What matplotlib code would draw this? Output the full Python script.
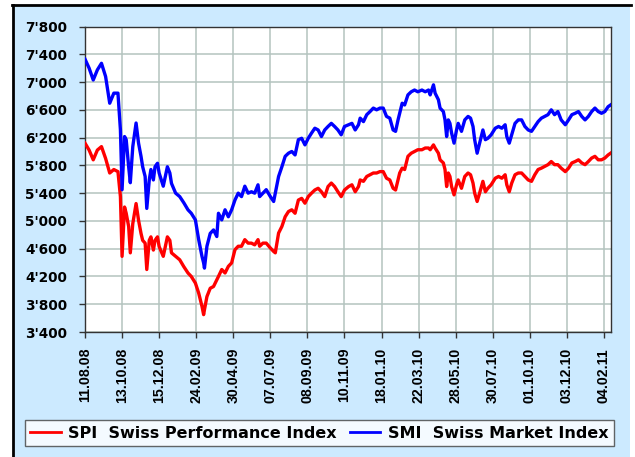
"""
SPI vs SMI, Aug 2008 - Feb 2011 (trading-day axis)
"""

import matplotlib
matplotlib.use('Agg')
import matplotlib.pyplot as plt
from matplotlib.patches import Rectangle
from matplotlib.lines import Line2D
from matplotlib import font_manager

# trading day index (0 = 11.08.08)
days = [0, 5, 10, 15, 20, 25, 30, 35, 40, 43, 45, 48, 50, 53, 55, 58, 62, 65, 68, 70,
        73, 75, 78, 80, 83, 85, 88, 90, 95, 100, 103, 105, 110, 115, 120, 125,
        129, 134, 138, 142, 144, 145, 148, 152, 156, 160, 162, 166, 170, 174, 178, 182,
        186, 190, 194, 198, 202, 206, 210, 212, 216, 220, 225, 229, 231, 235, 239, 243,
        247, 251, 255,
        259, 263, 267, 271, 275, 279, 283, 287, 291, 295, 299, 303, 307, 311, 315, 320,
        324, 328, 332, 334, 338, 342, 346, 350, 354, 358, 362, 366, 370, 374, 377, 380, 382,
        385, 388, 392, 396, 400, 404, 409, 413, 417, 419, 423, 425, 429, 431, 435, 437,
        439, 441, 443, 445, 448, 451, 453, 457, 461, 465, 468, 471, 473, 476, 479, 483,
        486, 489, 493, 498, 502, 506, 510,
        512, 515, 518, 522, 526, 530, 534, 538, 542, 546, 550, 554, 558, 562, 566, 570,
        574, 578, 583, 587, 591, 595, 599, 603, 607, 611, 615, 619, 623, 627, 631, 635, 638]

smi = [7330, 7200, 7030, 7175, 7270, 7080, 6695, 6840, 6840, 6310, 5450, 6215, 6170, 5780,
       5550, 6070, 6410, 6120, 5930, 5780, 5640, 5180, 5590, 5740, 5590, 5780, 5830, 5690,
       5500, 5780, 5690, 5540, 5400, 5350, 5260, 5160,
       5110, 5015, 4730, 4490, 4395, 4320, 4635, 4820, 4870, 4775, 5110, 5015, 5160, 5060,
       5160, 5300, 5400, 5350, 5500, 5400, 5420, 5400, 5520, 5350, 5400, 5450, 5350, 5280,
       5400, 5640, 5780, 5930, 5975, 6000, 5950,
       6170, 6190, 6095, 6190, 6265, 6335, 6310, 6215, 6310, 6360, 6405, 6360, 6310, 6240,
       6360, 6385, 6405, 6310, 6385, 6480, 6430, 6530, 6575, 6625, 6600, 6625, 6625, 6505,
       6480, 6310, 6290, 6455, 6550,
       6695, 6670, 6815, 6860, 6885, 6860, 6885, 6860, 6885, 6815, 6960, 6840, 6745, 6625,
       6575, 6455, 6215, 6455, 6405, 6265, 6120, 6310, 6405, 6290, 6455, 6505, 6480, 6360,
       6170, 5975, 6120, 6310, 6170, 6190, 6240, 6335, 6360, 6335, 6385,
       6215, 6120, 6240, 6405, 6455, 6455, 6360, 6310, 6290, 6360, 6430, 6480, 6505, 6530,
       6600, 6530, 6575, 6455, 6385, 6455, 6530, 6550, 6575, 6505, 6455, 6505, 6575, 6625,
       6575, 6550, 6575, 6645, 6670]

spi = [6120, 6020, 5880, 6020, 6070, 5900, 5690, 5740, 5710, 5350, 4490, 5200, 5110, 4920,
       4540, 4960, 5250, 5010, 4820, 4720, 4680, 4300, 4720, 4770, 4580, 4720, 4770, 4630,
       4490, 4770, 4720, 4540, 4490, 4440, 4340, 4250,
       4200, 4105, 3960, 3770, 3650, 3720, 3910, 4030, 4055, 4150, 4200, 4300, 4250, 4345,
       4395, 4585, 4635, 4635, 4730, 4680, 4680, 4655, 4730, 4635, 4680, 4680, 4610, 4560,
       4540, 4825, 4920, 5060, 5135, 5160, 5110,
       5300, 5325, 5255, 5350, 5400, 5445, 5470, 5420, 5350, 5495, 5545, 5495, 5420, 5350,
       5445, 5495, 5520, 5420, 5495, 5590, 5570, 5640, 5665, 5690, 5690, 5710, 5710, 5615,
       5590, 5470, 5445, 5590, 5690,
       5760, 5740, 5930, 5975, 6000, 6025, 6025, 6050, 6050, 6025, 6095, 6050, 5975, 5880,
       5835, 5740, 5495, 5690, 5640, 5495, 5375, 5520, 5590, 5470, 5640, 5690, 5665, 5545,
       5400, 5280, 5400, 5570, 5420, 5470, 5520, 5615, 5640, 5615, 5665,
       5520, 5420, 5545, 5665, 5690, 5690, 5640, 5590, 5570, 5665, 5740, 5760, 5785, 5810,
       5855, 5810, 5810, 5760, 5710, 5760, 5835, 5855, 5880, 5835, 5810, 5855, 5905, 5930,
       5880, 5880, 5905, 5950, 5975]

tick_labels = ['11.08.08', '13.10.08', '15.12.08', '24.02.09', '30.04.09', '07.07.09',
               '08.09.09', '10.11.09', '18.01.10', '22.03.10', '28.05.10', '30.07.10',
               '01.10.10', '03.12.10', '04.02.11']
tick_days = [i * 45 for i in range(len(tick_labels))]
y_ticks = list(range(3400, 7801, 400))

W, H = 635, 457
fig = plt.figure(figsize=(W / 100, H / 100), dpi=100)
fig.patch.set_facecolor('white')

# light blue panel + black frame on top/left
fig.add_artist(Rectangle((13 / W, 0), (630 - 13) / W, (H - 6) / H,
                         transform=fig.transFigure, facecolor='#cceaff',
                         edgecolor='none', zorder=0))
fig.add_artist(Line2D([12 / W, 631 / W], [1 - 5 / H, 1 - 5 / H],
                      transform=fig.transFigure, color='black', lw=2))
fig.add_artist(Line2D([13 / W, 13 / W], [0, 1 - 5 / H],
                      transform=fig.transFigure, color='black', lw=2))

ax = fig.add_axes([85 / W, 1 - 332 / H, (611 - 85) / W, (332 - 26.5) / H])
ax.set_facecolor('white')

ax.plot(days, spi, color='#ff0000', lw=2.4, label='SPI  Swiss Performance Index',
        solid_joinstyle='round', zorder=3)
ax.plot(days, smi, color='#0000ff', lw=2.4, label='SMI  Swiss Market Index',
        solid_joinstyle='round', zorder=3)

ax.set_xlim(0, 638.5)
ax.set_ylim(3400, 7800)
ax.set_xticks(tick_days)
ax.set_yticks(y_ticks)
ax.grid(True, color='#b4c3bf', lw=1.1, zorder=1)
ax.set_axisbelow(True)

for s in ax.spines.values():
    s.set_color('#333333')
    s.set_linewidth(1.0)

ax.set_yticklabels([f"{v:,}".replace(',', "'") for v in y_ticks],
                   fontfamily='DejaVu Sans', fontweight='bold', fontsize=9.8)

names = {f.name for f in font_manager.fontManager.ttflist}
if 'Liberation Sans Narrow' in names:
    xfam, xsize = 'Liberation Sans Narrow', 12.0
else:
    xfam, xsize = 'Liberation Sans', 10.2
ax.set_xticklabels(tick_labels, rotation=90, fontfamily=xfam,
                   fontweight='bold', fontsize=xsize)

ax.tick_params(axis='y', length=4, width=1, color='#333333', pad=9)
ax.tick_params(axis='x', length=4, width=1, color='#333333', pad=7.5)

leg = fig.legend(loc='center', bbox_to_anchor=(319.5 / W, 1 - 433 / H), ncol=2,
                 frameon=True, fancybox=False, shadow=False, borderpad=0.35,
                 handlelength=1.9, handletextpad=0.5, columnspacing=0.8,
                 prop={'family': 'DejaVu Sans', 'weight': 'bold', 'size': 11.5})
leg.get_frame().set_edgecolor('#404040')
leg.get_frame().set_linewidth(1.0)
leg.get_frame().set_facecolor('white')
for line in leg.get_lines():
    line.set_linewidth(2.0)

fig.savefig('out.png', dpi=100)
